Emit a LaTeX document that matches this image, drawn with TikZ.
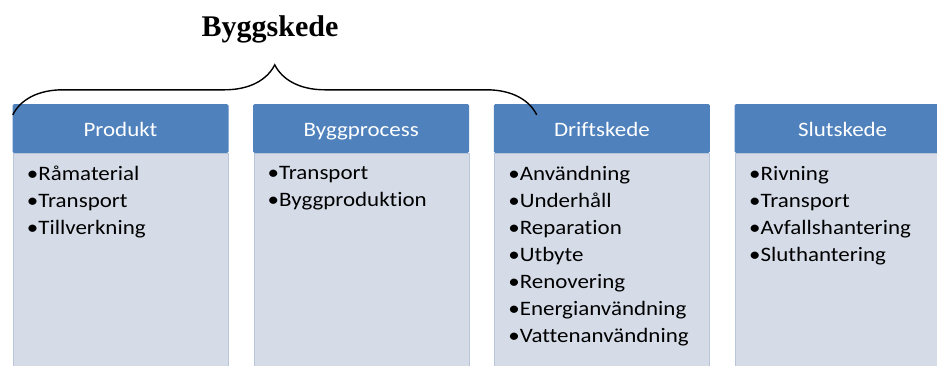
\documentclass[tikz,border=0pt]{standalone}
\usepackage{fontspec}
\newfontfamily\boxfont[FakeStretch=1.12,Ligatures=NoCommon]{Carlito}
\newfontfamily\titlefont{Liberation Serif}
\usepackage{tikz}
\usetikzlibrary{calc,positioning,decorations.pathreplacing}
\definecolor{headblue}{RGB}{79,129,189}
\definecolor{bodyblue}{RGB}{213,220,232}
\definecolor{bodyline}{RGB}{185,197,216}

\begin{document}
\begin{tikzpicture}[x=1pt,y=-1pt,
    head/.style={rectangle, fill=headblue, minimum width=216pt, minimum height=49pt,
        inner sep=0pt, rounded corners=1.5pt, text=white, text height=16pt, text depth=0pt,
        font=\boxfont\fontsize{20.5}{24}\selectfont},
    body/.style={rectangle, fill=bodyblue, draw=bodyline, minimum width=215pt,
        minimum height=230pt, anchor=north, inner sep=0pt},
    items/.style={anchor=north west, inner sep=0pt, align=left,
        font=\boxfont\fontsize{20.5}{27}\selectfont},
    bracket/.style={decorate, decoration={brace, amplitude=50pt}, line width=1.4pt}]
    \useasboundingbox (0,0) rectangle (937,365);
    %Headers
    \node[head] (prod) at (120.5,128.5) {Produkt};
    \node[head, right=24.3pt of prod] (bygg) {Byggprocess};
    \node[head, right=24.3pt of bygg] (drift) {Driftskede};
    \node[head, right=24.3pt of drift] (slut) {Slutskede};
    %Bodies
    \node[body] (prodb) at (prod.south) {};
    \node[body] (byggb) at (bygg.south) {};
    \node[body] (driftb) at (drift.south) {};
    \node[body] (slutb) at (slut.south) {};
    %Lists
    \node[items] (prodl) at ($(prodb.north west)+(14,12.5)$)
        {•Råmaterial\\•Transport\\•Tillverkning};
    \node[items] (byggl) at ($(byggb.north west)+(14,12.5)$)
        {•Transport\\•Byggproduktion};
    \node[items] (driftl) at ($(driftb.north west)+(14,12.5)$)
        {•Användning\\•Underhåll\\•Reparation\\•Utbyte\\•Renovering\\•Energianvändning\\•Vattenanvändning};
    \node[items] (slutl) at ($(slutb.north west)+(14,12.5)$)
        {•Rivning\\•Transport\\•Avfallshantering\\•Sluthantering};
    %Brace
    \coordinate (bl) at ($(prod.north west)+(0.5,11)$);
    \coordinate (br) at ($(drift.north west)+(43,11)$);
    \draw[bracket] (bl) -- (br);
    \node[font=\titlefont\bfseries\fontsize{30}{36}\selectfont] (byggskede) at (270,29) {Byggskede};
\end{tikzpicture}
\end{document}
